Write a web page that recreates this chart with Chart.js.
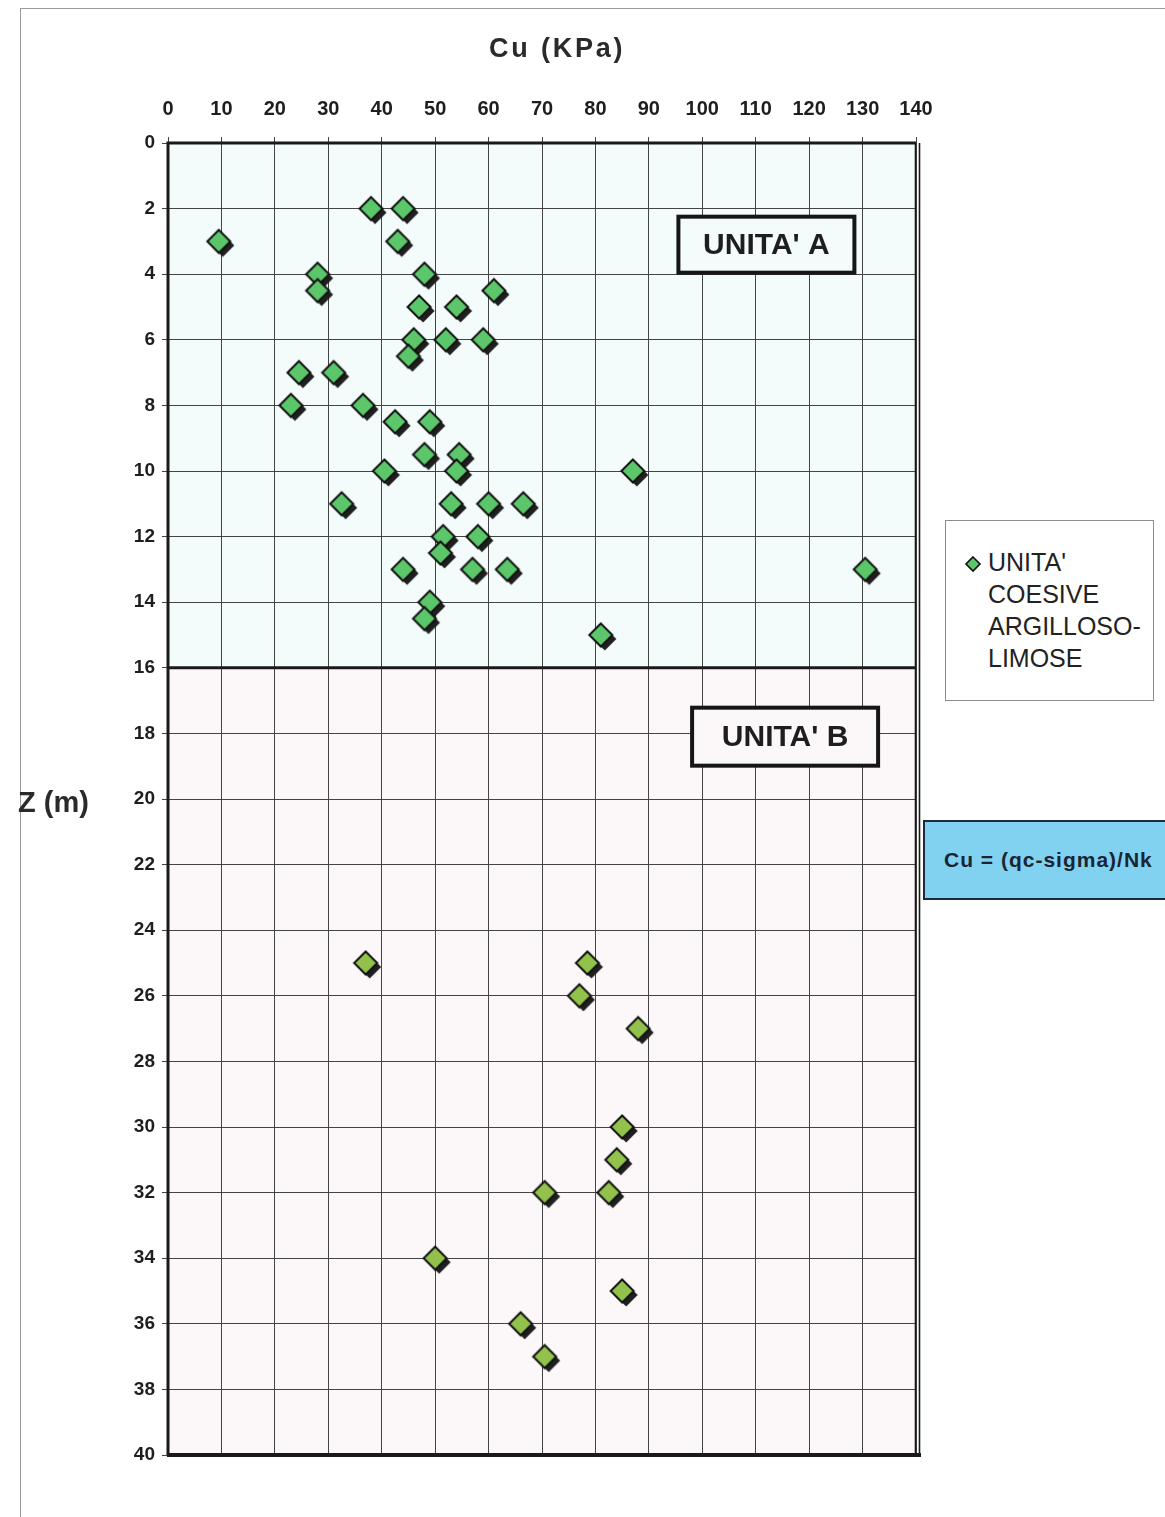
<!DOCTYPE html>
<html>
<head>
<meta charset="utf-8">
<script src="https://cdn.jsdelivr.net/npm/chart.js@4.4.1/dist/chart.umd.min.js"></script>
<style>
    body { margin: 0; background: #fff; font-family: "Liberation Sans", Arial, sans-serif; }
    #page { position: relative; width: 1165px; height: 1517px; overflow: hidden; }
    #frame { position: absolute; left: 20px; top: 8px; right: -2px; bottom: -2px; border-top: 1px solid #9a9a9a; border-left: 1px solid #9a9a9a; }
    canvas { position: absolute; left: 0; top: 0; }
    .title { position: absolute; font-weight: bold; color: #2a2a2a; white-space: nowrap; }
    #legend { position: absolute; left: 945px; top: 520px; width: 209px; height: 181px; border: 1px solid #8c8c8c; background: #fff; box-sizing: border-box; }
    #legend .txt { position: absolute; left: 42px; top: 25px; font-size: 25px; line-height: 32px; color: #222; }
    #legend canvas { position: absolute; left: 18px; top: 34px; }
    #formula { position: absolute; left: 923px; top: 820px; width: 250px; height: 80px; background: #80d2f0; border: 2px solid #1c2a3a; box-sizing: border-box; }
    #formula span { position: absolute; left: 19px; top: 26px; font-size: 21px; font-weight: bold; letter-spacing: 1px; color: #1b2433; white-space: nowrap; }
</style>
</head>
<body>
<div id="page">
    <div id="frame"></div>
    <canvas id="plot" width="1165" height="1517"></canvas>
    <div class="title" style="left:489px; top:33px; font-size:27px; letter-spacing:2.8px;">Cu (KPa)</div>
    <div class="title" style="left:18px; top:786px; font-size:29px;">Z (m)</div>
    <div id="legend">
        <canvas id="legendMark" width="18" height="18"></canvas>
        <div class="txt">UNITA'<br>COESIVE<br>ARGILLOSO-<br>LIMOSE</div>
    </div>
    <div id="formula"><span>Cu = (qc-sigma)/Nk</span></div>
</div>
<script>
"use strict";

// depth Z (m) and undrained shear strength Cu (KPa)
const unitA_cu = [38, 44, 9.5, 43, 28, 48, 28, 61, 47, 54, 46, 52, 59, 45, 24.5, 31, 23, 36.5, 42.5, 49,
    48, 54.5, 40.5, 54, 87, 32.5, 53, 60, 66.5, 51.5, 58, 51, 44, 57, 63.5, 130.5, 49, 48, 81];
const unitA_z = [2, 2, 3, 3, 4, 4, 4.5, 4.5, 5, 5, 6, 6, 6, 6.5, 7, 7, 8, 8, 8.5, 8.5,
    9.5, 9.5, 10, 10, 10, 11, 11, 11, 11, 12, 12, 12.5, 13, 13, 13, 13, 14, 14.5, 15];

const unitB_cu = [37, 78.5, 77, 88, 85, 84, 70.5, 82.5, 50, 85, 66, 70.5];
const unitB_z = [25, 25, 26, 27, 30, 31, 32, 32, 34, 35, 36, 37];

const unitLimit = 16;
const legendLabel = "UNITA' COESIVE ARGILLOSO-LIMOSE";

function toPoints(xs, ys) {
    let pts = [];
    for (let i = 0; i < xs.length; i++) {
        pts.push({ x: xs[i], y: ys[i] });
    }
    return pts;
}

// diamond marker with a dark drop shadow to the lower right
function makeDiamond(fill) {
    const c = document.createElement('canvas');
    c.width = 40;
    c.height = 40;
    const g = c.getContext('2d');
    const r = 11.5;
    function path(cx, cy) {
        g.beginPath();
        g.moveTo(cx, cy - r);
        g.lineTo(cx + r, cy);
        g.lineTo(cx, cy + r);
        g.lineTo(cx - r, cy);
        g.closePath();
    }
    path(24, 24);
    g.fillStyle = '#1f1f1f';
    g.fill();
    path(20, 20);
    g.fillStyle = fill;
    g.fill();
    g.lineWidth = 2;
    g.strokeStyle = '#111';
    g.stroke();
    return c;
}

// small legend diamond
(function () {
    const g = document.getElementById('legendMark').getContext('2d');
    g.beginPath();
    g.moveTo(9, 2); g.lineTo(16, 9); g.lineTo(9, 16); g.lineTo(2, 9); g.closePath();
    g.fillStyle = '#5cc76a';
    g.fill();
    g.lineWidth = 1.6;
    g.strokeStyle = '#111';
    g.stroke();
})();

const unitBoxes = [
    { text: "UNITA' A", cx: 112, cy: 3.1, w: 176, h: 56, fill: '#f4fbfb' },
    { text: "UNITA' B", cx: 115.5, cy: 18.1, w: 186, h: 58, fill: '#fcf7f9' }
];

const decorPlugin = {
    id: 'decor',
    beforeDraw(chart) {
        const { ctx, chartArea: a, scales } = chart;
        const yl = scales.y.getPixelForValue(unitLimit);
        ctx.save();
        ctx.fillStyle = '#f4fbfb';
        ctx.fillRect(a.left, a.top, a.width, yl - a.top);
        ctx.fillStyle = '#fcf7f9';
        ctx.fillRect(a.left, yl, a.width, a.bottom - yl);
        ctx.restore();
    },
    beforeDatasetsDraw(chart) {
        const { ctx, chartArea: a, scales } = chart;
        ctx.save();
        // unit separator
        const yl = scales.y.getPixelForValue(unitLimit);
        ctx.strokeStyle = '#1a1a1a';
        ctx.lineWidth = 3;
        ctx.beginPath();
        ctx.moveTo(a.left, yl);
        ctx.lineTo(a.right, yl);
        ctx.stroke();

        // frame
        ctx.lineWidth = 3;
        ctx.beginPath();
        ctx.moveTo(a.left, a.bottom);
        ctx.lineTo(a.left, a.top);
        ctx.lineTo(a.right, a.top);
        ctx.stroke();
        ctx.lineWidth = 4;
        ctx.beginPath();
        ctx.moveTo(a.left - 1, a.bottom);
        ctx.lineTo(a.right + 5, a.bottom);
        ctx.stroke();
        ctx.lineWidth = 1.6;
        ctx.beginPath();
        ctx.moveTo(a.right - 0.5, a.top);
        ctx.lineTo(a.right - 0.5, a.bottom);
        ctx.moveTo(a.right + 3.5, a.top);
        ctx.lineTo(a.right + 3.5, a.bottom);
        ctx.stroke();

        // unit labels
        for (const b of unitBoxes) {
            const px = scales.x.getPixelForValue(b.cx);
            const py = scales.y.getPixelForValue(b.cy);
            ctx.fillStyle = b.fill;
            ctx.fillRect(px - b.w / 2, py - b.h / 2, b.w, b.h);
            ctx.lineWidth = 4;
            ctx.strokeStyle = '#161616';
            ctx.strokeRect(px - b.w / 2, py - b.h / 2, b.w, b.h);
            ctx.fillStyle = '#1e1e1e';
            ctx.font = 'bold 30px "Liberation Sans", Arial, sans-serif';
            ctx.textAlign = 'center';
            ctx.textBaseline = 'middle';
            ctx.fillText(b.text, px, py + 1);
        }
        ctx.restore();
    }
};

const tickFont = { family: '"Liberation Sans", Arial, sans-serif', weight: 'bold' };

new Chart(document.getElementById('plot'), {
    type: 'scatter',
    data: {
        datasets: [{
            label: legendLabel,
            data: toPoints(unitA_cu, unitA_z),
            pointStyle: makeDiamond('#5cc76a'),
            pointRadius: 11,
            pointHoverRadius: 11
        }, {
            label: legendLabel,
            data: toPoints(unitB_cu, unitB_z),
            pointStyle: makeDiamond('#92c24c'),
            pointRadius: 11,
            pointHoverRadius: 11
        }]
    },
    options: {
        responsive: false,
        animation: false,
        layout: { padding: { top: 80, left: 0, right: 249, bottom: 62 } },
        plugins: {
            legend: { display: false },
            tooltip: { enabled: false }
        },
        scales: {
            x: {
                type: 'linear',
                position: 'top',
                min: 0,
                max: 140,
                afterFit: (scale) => { scale.height = 63; },
                ticks: {
                    stepSize: 10,
                    padding: 16,
                    color: '#1e1e1e',
                    font: Object.assign({ size: 20 }, tickFont)
                },
                grid: { color: '#444', lineWidth: 1, tickLength: 6, drawTicks: true },
                border: { display: false }
            },
            y: {
                type: 'linear',
                reverse: true,
                min: 0,
                max: 40,
                afterFit: (scale) => { scale.width = 168; },
                ticks: {
                    stepSize: 2,
                    padding: 7,
                    color: '#1e1e1e',
                    font: Object.assign({ size: 19 }, tickFont)
                },
                grid: { color: '#444', lineWidth: 1, tickLength: 6, drawTicks: true },
                border: { display: false }
            }
        }
    },
    plugins: [decorPlugin]
});
</script>
</body>
</html>
